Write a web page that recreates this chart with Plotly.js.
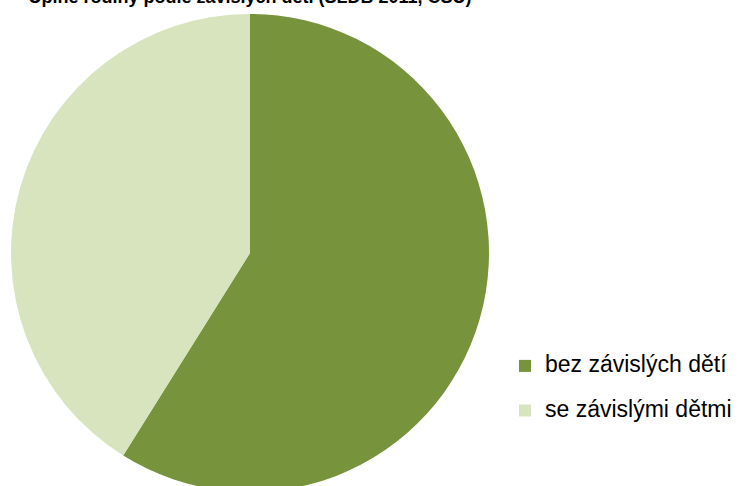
<!DOCTYPE html>
<html>
<head>
<meta charset="utf-8">
<script src="https://cdn.plot.ly/plotly-3.0.1.min.js"></script>
<style>
html,body{margin:0;padding:0;overflow:hidden;background:#fff;}
#chart{width:745px;height:501px;margin-top:-3px;}
</style>
</head>
<body>
<div id="chart"></div>
<script>
var labels = ["bez závislých dětí", "se závislými dětmi"];
var values = [58.9, 41.1];
var colors = ["#77933C", "#D7E4BD"];
var titleText = "Úplné rodiny podle závislých dětí (SLDB 2011, ČSÚ)";

var W = 745, H = 501;
var cx = 250, cy = 256, r = 239;

var displayLabels = labels.map(function (l) {
  return '<span style="font-size:23px">' + l + '</span><br> ';
});

var trace = {
  type: 'pie',
  labels: displayLabels,
  values: values,
  sort: false,
  direction: 'clockwise',
  rotation: 0,
  marker: {colors: colors, line: {width: 0}},
  textinfo: 'none',
  hoverinfo: 'none',
  domain: {
    x: [(cx - r) / W, (cx + r) / W],
    y: [(H - cy - r) / H, (H - cy + r) / H]
  }
};

var layout = {
  width: W,
  height: H,
  margin: {l: 0, r: 0, t: 0, b: 0},
  paper_bgcolor: '#ffffff',
  plot_bgcolor: '#ffffff',
  font: {family: 'Arial, "Liberation Sans", sans-serif', color: '#000000'},
  title: {
    text: titleText,
    font: {family: 'Arial, "Liberation Sans", sans-serif', size: 18, weight: 'bold', color: '#000000'},
    xref: 'container', yref: 'container',
    x: cx / W, xanchor: 'center',
    y: 1, yanchor: 'middle'
  },
  showlegend: true,
  legend: {
    x: 505 / W, xanchor: 'left',
    y: (H - 352) / H, yanchor: 'top',
    font: {size: 16, color: '#000000'},
    valign: 'top',
    bgcolor: 'rgba(0,0,0,0)',
    borderwidth: 0
  }
};

Plotly.newPlot('chart', [trace], layout, {displayModeBar: false, staticPlot: true});
</script>
</body>
</html>
